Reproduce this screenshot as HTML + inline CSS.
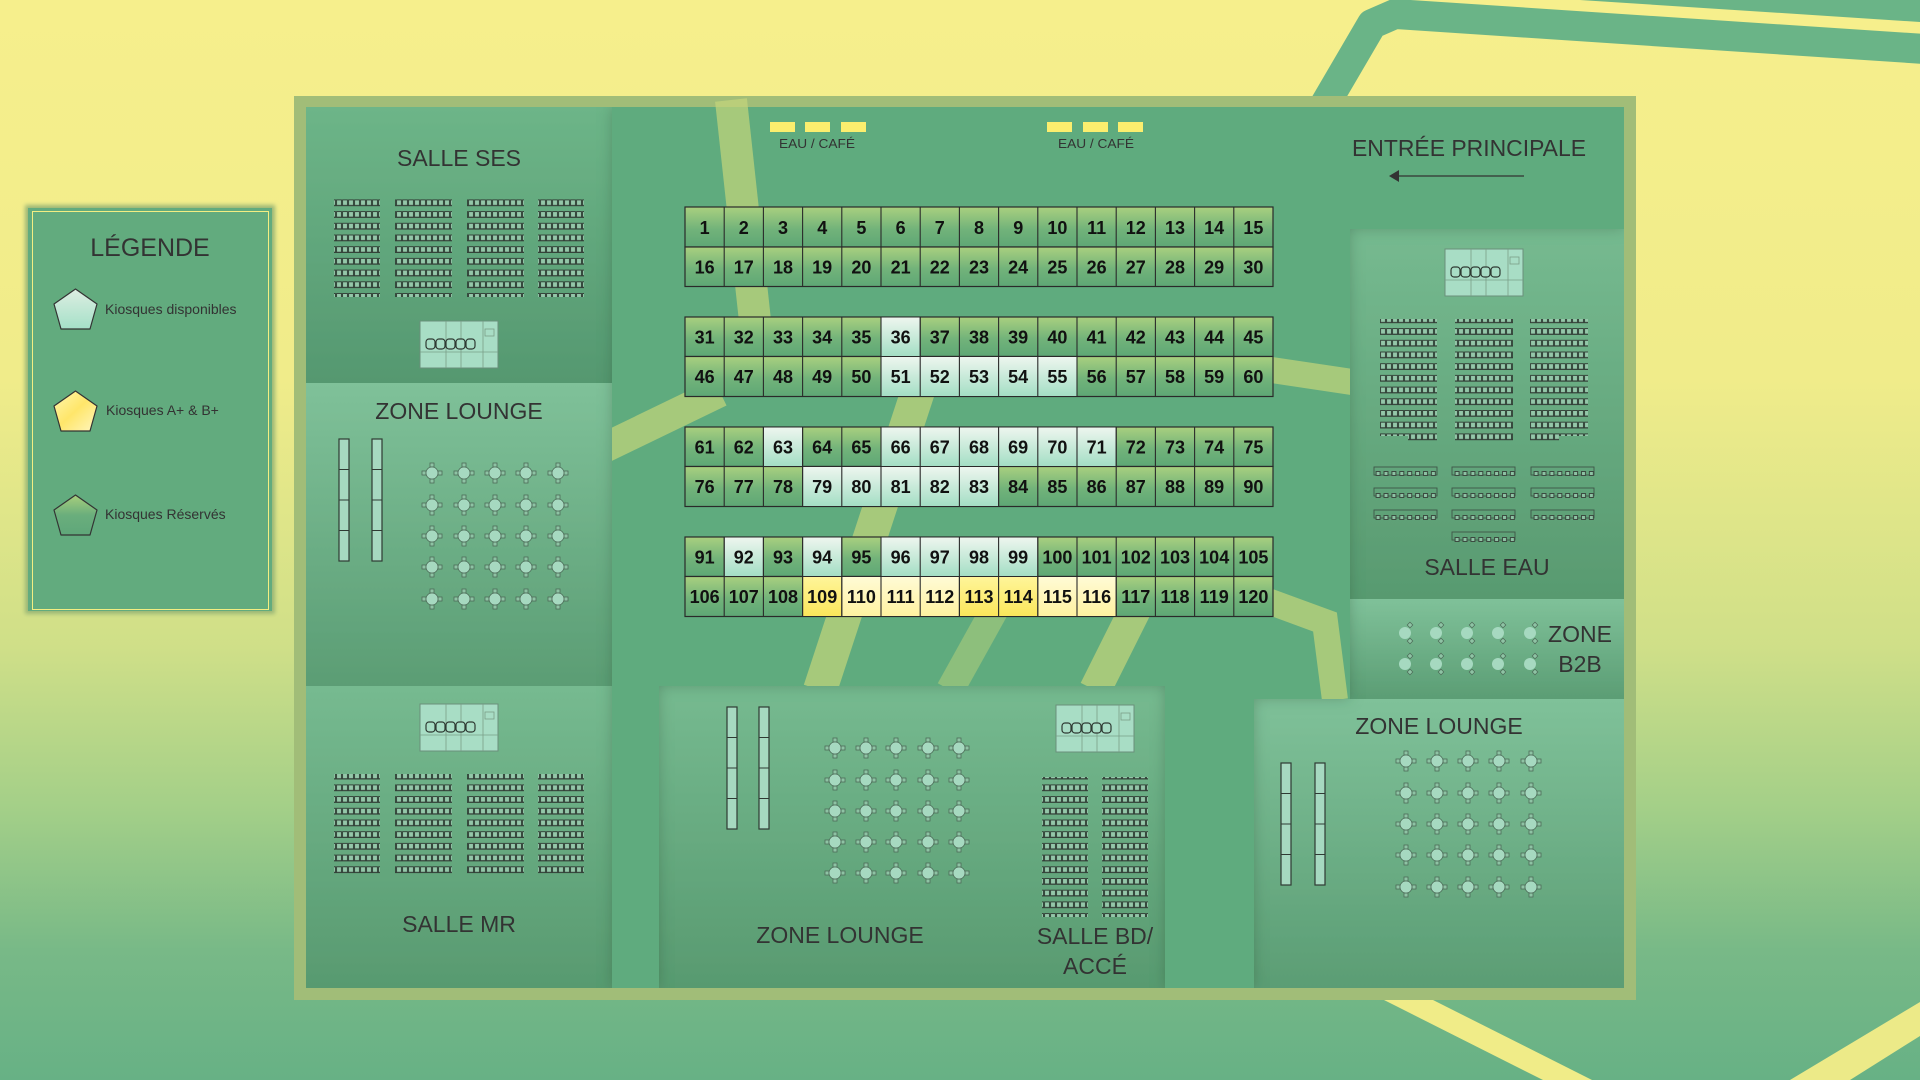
<!DOCTYPE html>
<html><head><meta charset="utf-8"><style>
html,body{margin:0;padding:0;width:1920px;height:1080px;overflow:hidden}
svg{display:block}
text{font-family:"Liberation Sans",sans-serif;fill:#333}
</style></head><body>
<svg width="1920" height="1080" viewBox="0 0 1920 1080" xmlns="http://www.w3.org/2000/svg">
<defs>
<linearGradient id="bg" x1="0" y1="0" x2="0" y2="1">
<stop offset="0" stop-color="#f6ef8c"/><stop offset="0.35" stop-color="#f0ec8a"/><stop offset="0.6" stop-color="#cfdf88"/><stop offset="0.75" stop-color="#a3cf88"/><stop offset="0.88" stop-color="#78b987"/><stop offset="1" stop-color="#67b185"/>
</linearGradient>
<filter id="inset" x="0" y="0" width="1" height="1">
<feFlood flood-color="#1f4a30" flood-opacity="0.45"/>
<feComposite in2="SourceAlpha" operator="out"/>
<feGaussianBlur stdDeviation="7"/>
<feComposite in2="SourceAlpha" operator="in" result="sh"/>
<feMerge><feMergeNode in="SourceGraphic"/><feMergeNode in="sh"/></feMerge>
</filter>
<filter id="glow" x="-10%" y="-10%" width="120%" height="120%"><feGaussianBlur stdDeviation="2"/></filter>
<linearGradient id="gG" x1="0" y1="0" x2="0" y2="1"><stop offset="0" stop-color="#a9d07f"/><stop offset="0.55" stop-color="#72b37a"/><stop offset="1" stop-color="#5ea775"/></linearGradient>
<linearGradient id="gA" x1="0" y1="0" x2="0" y2="1"><stop offset="0" stop-color="#eef6ef"/><stop offset="1" stop-color="#a3dec4"/></linearGradient>
<linearGradient id="gY" x1="0" y1="0" x2="0" y2="1"><stop offset="0" stop-color="#fffbd6"/><stop offset="1" stop-color="#fff2a0"/></linearGradient>
<linearGradient id="gY2" x1="0" y1="0" x2="0" y2="1"><stop offset="0" stop-color="#fff59a"/><stop offset="1" stop-color="#fbe65a"/></linearGradient>
<linearGradient id="pSes" x1="0" y1="0" x2="0" y2="1"><stop offset="0" stop-color="#6db588"/><stop offset="1" stop-color="#559870"/></linearGradient>
<linearGradient id="pL" x1="0" y1="0" x2="0" y2="1"><stop offset="0" stop-color="#7fc199"/><stop offset="1" stop-color="#5b9d74"/></linearGradient>
<linearGradient id="pMid" x1="0" y1="0" x2="0" y2="1"><stop offset="0" stop-color="#76ba90"/><stop offset="1" stop-color="#589a70"/></linearGradient>
<linearGradient id="pLeg" x1="0" y1="0" x2="0" y2="1"><stop offset="0" stop-color="#ddeee2"/><stop offset="1" stop-color="#a5e0c8"/></linearGradient>
<linearGradient id="pLegY" x1="0" y1="0" x2="1" y2="1"><stop offset="0" stop-color="#fff7b0"/><stop offset="0.5" stop-color="#ffe66a"/><stop offset="1" stop-color="#fff6c0"/></linearGradient>
<linearGradient id="pLegG" x1="0" y1="0" x2="0" y2="1"><stop offset="0" stop-color="#a8cf7c"/><stop offset="0.5" stop-color="#6aae7c"/><stop offset="1" stop-color="#5fa77a"/></linearGradient>
<pattern id="seat" patternUnits="userSpaceOnUse" width="6" height="11.7">
<rect x="0.6" y="1" width="4.8" height="5.6" fill="#94c7a9" stroke="#2f3a33" stroke-width="0.9"/>
<rect x="0" y="6.2" width="6" height="1" fill="#2f3a33"/>
</pattern>
<pattern id="chair" patternUnits="userSpaceOnUse" width="7.9" height="22">
<rect x="1.5" y="9.5" width="4" height="4" fill="#8ec3a4" stroke="#3b4a40" stroke-width="1"/>
</pattern>
<g id="tbl">
<rect x="-2" y="-10" width="4" height="4" fill="#8ec3a4" stroke="#4d6b58" stroke-width="0.8"/>
<rect x="-2" y="6" width="4" height="4" fill="#8ec3a4" stroke="#4d6b58" stroke-width="0.8"/>
<rect x="-10" y="-2" width="4" height="4" fill="#8ec3a4" stroke="#4d6b58" stroke-width="0.8"/>
<rect x="6" y="-2" width="4" height="4" fill="#8ec3a4" stroke="#4d6b58" stroke-width="0.8"/>
<circle r="6" fill="#a6d9c0" stroke="#4d6b58" stroke-width="0.8"/>
</g>
<g id="b2b">
<rect x="3" y="-10" width="4" height="4" transform="rotate(45 5 -8)" fill="#8ec3a4" stroke="#4d6b58" stroke-width="0.7"/>
<rect x="3" y="6" width="4" height="4" transform="rotate(45 5 8)" fill="#8ec3a4" stroke="#4d6b58" stroke-width="0.7"/>
<circle r="6" fill="#a6d9c0"/>
</g>
<g id="bars">
<rect x="0" y="0" width="10" height="122" fill="#a6d9c0" stroke="#2f3a33" stroke-width="1.2"/>
<line x1="0" y1="30.5" x2="10" y2="30.5" stroke="#2f3a33"/><line x1="0" y1="61" x2="10" y2="61" stroke="#2f3a33"/><line x1="0" y1="91.5" x2="10" y2="91.5" stroke="#2f3a33"/>
</g>
<g id="stage">
<rect x="0" y="0" width="78" height="47" fill="#a8ddc5" stroke="#6a8f7a" stroke-width="1"/>
<line x1="0" y1="31" x2="78" y2="31" stroke="#7a9e88" stroke-width="0.8"/>
<line x1="26" y1="0" x2="26" y2="47" stroke="#7a9e88" stroke-width="0.8"/>
<line x1="41" y1="0" x2="41" y2="47" stroke="#7a9e88" stroke-width="0.8"/>
<line x1="63" y1="0" x2="63" y2="47" stroke="#7a9e88" stroke-width="0.8"/>
<rect x="65" y="8" width="9" height="7" fill="none" stroke="#7a9e88" stroke-width="0.8"/>
<g fill="#a8ddc5" stroke="#2f3a33" stroke-width="1.2">
<rect x="6" y="18" width="9" height="10" rx="3"/><rect x="16" y="18" width="9" height="10" rx="3"/><rect x="26" y="18" width="9" height="10" rx="3"/><rect x="36" y="18" width="9" height="10" rx="3"/><rect x="46" y="18" width="9" height="10" rx="3"/>
</g>
</g>
</defs>

<!-- background -->
<rect width="1920" height="1080" fill="url(#bg)"/>
<polyline points="1310,130 1372,24 1395,14 1940,50" fill="none" stroke="#6ab487" stroke-width="30" stroke-linejoin="round"/>
<polygon points="1580,0 1920,0 1920,22" fill="#6ab487"/>
<polygon points="1384,1000 1433,1000 1592,1080 1543,1080" fill="#f0ec88"/>
<polygon points="1920,1002 1920,1036 1850,1080 1790,1080" fill="#ecea88"/>

<!-- legend -->
<rect x="25" y="205" width="250" height="409" fill="#9ab676" filter="url(#glow)"/>
<rect x="28" y="208" width="244" height="403" fill="#62ab7e"/>
<rect x="32.5" y="211.5" width="236" height="398" fill="none" stroke="#f3ee82" stroke-width="1"/>
<text x="150" y="256" font-size="25" text-anchor="middle">LÉGENDE</text>
<g stroke="#333" stroke-width="1.2" stroke-linejoin="round">
<polygon transform="translate(54,289)" points="21.5,0 43,15 36,40 7,40 0,15" fill="url(#pLeg)"/>
<polygon transform="translate(54,391)" points="21.5,0 43,15 36,40 7,40 0,15" fill="url(#pLegY)"/>
<polygon transform="translate(54,495)" points="21.5,0 43,15 36,40 7,40 0,15" fill="url(#pLegG)"/>
</g>
<text x="105" y="314" font-size="14">Kiosques disponibles</text>
<text x="106" y="415" font-size="14">Kiosques A+ &amp; B+</text>
<text x="105" y="519" font-size="14">Kiosques Réservés</text>

<!-- board -->
<rect x="294" y="96" width="1342" height="904" fill="#a1bd78"/>
<rect x="306" y="107" width="1318" height="881" fill="#5fab7e" filter="url(#inset)"/>
<!-- stripes -->
<g stroke="#c5d67b" stroke-opacity="0.7" fill="none" stroke-linecap="butt">
<line x1="731" y1="100" x2="756" y2="330" stroke-width="32"/>
<line x1="600" y1="450" x2="720" y2="392" stroke-width="30"/>
<line x1="920" y1="385" x2="820" y2="690" stroke-width="34"/>
<line x1="1000" y1="600" x2="950" y2="690" stroke-width="28" stroke-opacity="0.45"/>
<line x1="1140" y1="600" x2="1095" y2="690" stroke-width="32"/>
<line x1="1265" y1="369" x2="1352" y2="382" stroke-width="26"/>
<polyline points="1265,600 1325,622 1335,700" stroke-width="26"/>
</g>

<!-- panels -->
<g filter="url(#inset)">
<rect x="306" y="107" width="306" height="276" fill="url(#pSes)"/>
<rect x="306" y="383" width="306" height="303" fill="url(#pL)"/>
<rect x="306" y="686" width="306" height="302" fill="url(#pMid)"/>
<rect x="659" y="686" width="365" height="302" fill="url(#pMid)"/>
<rect x="1024" y="686" width="141" height="302" fill="url(#pMid)"/>
<rect x="1254" y="699" width="370" height="289" fill="url(#pL)"/>
<rect x="1350" y="229" width="274" height="370" fill="url(#pMid)"/>
<rect x="1350" y="599" width="274" height="100" fill="url(#pL)"/>
</g>

<!-- SALLE SES -->
<text x="459" y="166" font-size="23" text-anchor="middle">SALLE SES</text>
<g fill="url(#seat)">
<rect x="334" y="197" width="46" height="100"/><rect x="395" y="197" width="57" height="100"/><rect x="467" y="197" width="57" height="100"/><rect x="538" y="197" width="46" height="100"/>
</g>
<use href="#stage" x="420" y="321"/>

<!-- LEFT LOUNGE -->
<text x="459" y="419" font-size="23" text-anchor="middle">ZONE LOUNGE</text>
<use href="#bars" x="339" y="439"/><use href="#bars" x="372" y="439"/>
<g>
<use href="#tbl" x="432" y="473"/><use href="#tbl" x="464" y="473"/><use href="#tbl" x="495" y="473"/><use href="#tbl" x="526" y="473"/><use href="#tbl" x="558" y="473"/>
<use href="#tbl" x="432" y="505"/><use href="#tbl" x="464" y="505"/><use href="#tbl" x="495" y="505"/><use href="#tbl" x="526" y="505"/><use href="#tbl" x="558" y="505"/>
<use href="#tbl" x="432" y="536"/><use href="#tbl" x="464" y="536"/><use href="#tbl" x="495" y="536"/><use href="#tbl" x="526" y="536"/><use href="#tbl" x="558" y="536"/>
<use href="#tbl" x="432" y="567"/><use href="#tbl" x="464" y="567"/><use href="#tbl" x="495" y="567"/><use href="#tbl" x="526" y="567"/><use href="#tbl" x="558" y="567"/>
<use href="#tbl" x="432" y="599"/><use href="#tbl" x="464" y="599"/><use href="#tbl" x="495" y="599"/><use href="#tbl" x="526" y="599"/><use href="#tbl" x="558" y="599"/>
</g>

<!-- SALLE MR -->
<use href="#stage" x="420" y="704"/>
<g fill="url(#seat)">
<rect x="334" y="774" width="46" height="102"/><rect x="395" y="774" width="57" height="102"/><rect x="467" y="774" width="57" height="102"/><rect x="538" y="774" width="46" height="102"/>
</g>
<text x="459" y="932" font-size="23" text-anchor="middle">SALLE MR</text>

<!-- MID LOUNGE -->
<use href="#bars" x="727" y="707"/><use href="#bars" x="759" y="707"/>
<g>
<use href="#tbl" x="835" y="748"/><use href="#tbl" x="866" y="748"/><use href="#tbl" x="896" y="748"/><use href="#tbl" x="928" y="748"/><use href="#tbl" x="959" y="748"/>
<use href="#tbl" x="835" y="780"/><use href="#tbl" x="866" y="780"/><use href="#tbl" x="896" y="780"/><use href="#tbl" x="928" y="780"/><use href="#tbl" x="959" y="780"/>
<use href="#tbl" x="835" y="811"/><use href="#tbl" x="866" y="811"/><use href="#tbl" x="896" y="811"/><use href="#tbl" x="928" y="811"/><use href="#tbl" x="959" y="811"/>
<use href="#tbl" x="835" y="842"/><use href="#tbl" x="866" y="842"/><use href="#tbl" x="896" y="842"/><use href="#tbl" x="928" y="842"/><use href="#tbl" x="959" y="842"/>
<use href="#tbl" x="835" y="873"/><use href="#tbl" x="866" y="873"/><use href="#tbl" x="896" y="873"/><use href="#tbl" x="928" y="873"/><use href="#tbl" x="959" y="873"/>
</g>
<text x="840" y="943" font-size="23" text-anchor="middle">ZONE LOUNGE</text>

<!-- SALLE BD -->
<use href="#stage" x="1056" y="705"/>
<g fill="url(#seat)">
<rect x="1042" y="777" width="46" height="140"/><rect x="1102" y="777" width="46" height="140"/>
</g>
<text x="1095" y="944" font-size="23" text-anchor="middle">SALLE BD/</text>
<text x="1095" y="974" font-size="23" text-anchor="middle">ACCÉ</text>

<!-- RIGHT LOUNGE -->
<text x="1439" y="734" font-size="23" text-anchor="middle">ZONE LOUNGE</text>
<use href="#bars" x="1281" y="763"/><use href="#bars" x="1315" y="763"/>
<g>
<use href="#tbl" x="1406" y="761"/><use href="#tbl" x="1437" y="761"/><use href="#tbl" x="1468" y="761"/><use href="#tbl" x="1499" y="761"/><use href="#tbl" x="1531" y="761"/>
<use href="#tbl" x="1406" y="793"/><use href="#tbl" x="1437" y="793"/><use href="#tbl" x="1468" y="793"/><use href="#tbl" x="1499" y="793"/><use href="#tbl" x="1531" y="793"/>
<use href="#tbl" x="1406" y="824"/><use href="#tbl" x="1437" y="824"/><use href="#tbl" x="1468" y="824"/><use href="#tbl" x="1499" y="824"/><use href="#tbl" x="1531" y="824"/>
<use href="#tbl" x="1406" y="855"/><use href="#tbl" x="1437" y="855"/><use href="#tbl" x="1468" y="855"/><use href="#tbl" x="1499" y="855"/><use href="#tbl" x="1531" y="855"/>
<use href="#tbl" x="1406" y="887"/><use href="#tbl" x="1437" y="887"/><use href="#tbl" x="1468" y="887"/><use href="#tbl" x="1499" y="887"/><use href="#tbl" x="1531" y="887"/>
</g>

<!-- SALLE EAU -->
<use href="#stage" x="1445" y="249"/>
<g fill="url(#seat)">
<rect x="1380" y="319" width="57" height="117"/><rect x="1408" y="436" width="29" height="8"/>
<rect x="1455" y="319" width="58" height="125"/>
<rect x="1530" y="319" width="58" height="117"/><rect x="1530" y="436" width="29" height="8"/>
</g>
<g fill="none" stroke="#3f5548" stroke-width="0.9">
<rect x="1374" y="467" width="63" height="8"/><rect x="1452" y="467" width="63" height="8"/><rect x="1531" y="467" width="63" height="8"/>
<rect x="1374" y="488" width="63" height="8"/><rect x="1452" y="488" width="63" height="8"/><rect x="1531" y="488" width="63" height="8"/>
<rect x="1374" y="510" width="63" height="8"/><rect x="1452" y="510" width="63" height="8"/><rect x="1531" y="510" width="63" height="8"/>
<rect x="1452" y="532" width="63" height="8"/>
</g>
<g fill="url(#chair)">
<rect x="1374" y="467" width="63" height="66"/><rect x="1452" y="467" width="63" height="66"/><rect x="1531" y="467" width="63" height="66"/>
<rect x="1452" y="533" width="63" height="14"/>
</g>
<text x="1487" y="575" font-size="23" text-anchor="middle">SALLE EAU</text>

<!-- B2B -->
<g>
<use href="#b2b" x="1405" y="633"/><use href="#b2b" x="1436" y="633"/><use href="#b2b" x="1467" y="633"/><use href="#b2b" x="1498" y="633"/><use href="#b2b" x="1530" y="633"/>
<use href="#b2b" x="1405" y="664"/><use href="#b2b" x="1436" y="664"/><use href="#b2b" x="1467" y="664"/><use href="#b2b" x="1498" y="664"/><use href="#b2b" x="1530" y="664"/>
</g>
<text x="1580" y="642" font-size="23" text-anchor="middle">ZONE</text>
<text x="1580" y="672" font-size="23" text-anchor="middle">B2B</text>

<!-- top: eau/cafe, entrance -->
<g fill="#fbee6e">
<rect x="770" y="122" width="25" height="10"/><rect x="805" y="122" width="25" height="10"/><rect x="841" y="122" width="25" height="10"/>
<rect x="1047" y="122" width="25" height="10"/><rect x="1083" y="122" width="25" height="10"/><rect x="1118" y="122" width="25" height="10"/>
</g>
<text x="817" y="148" font-size="13" text-anchor="middle" textLength="76" lengthAdjust="spacingAndGlyphs">EAU / CAFÉ</text>
<text x="1096" y="148" font-size="13" text-anchor="middle" textLength="76" lengthAdjust="spacingAndGlyphs">EAU / CAFÉ</text>
<text x="1352" y="156" font-size="23" textLength="234" lengthAdjust="spacingAndGlyphs">ENTRÉE PRINCIPALE</text>
<line x1="1396" y1="176" x2="1524" y2="176" stroke="#333" stroke-width="1.2"/>
<polygon points="1389,176 1399,170 1399,182" fill="#333"/>

<!-- kiosk grid -->
<g stroke="#2a2a2a" stroke-width="1.2">
<rect x="685" y="207" width="588" height="40" fill="url(#gG)"/>
<rect x="685" y="247" width="588" height="39.5" fill="url(#gG)"/>
<rect x="685" y="317" width="588" height="39.5" fill="url(#gG)"/>
<rect x="685" y="356.5" width="588" height="40" fill="url(#gG)"/>
<rect x="685" y="427" width="588" height="39.5" fill="url(#gG)"/>
<rect x="685" y="466.5" width="588" height="40" fill="url(#gG)"/>
<rect x="685" y="537" width="588" height="39.5" fill="url(#gG)"/>
<rect x="685" y="576.5" width="588" height="40" fill="url(#gG)"/>
</g>
<g stroke="#2a2a2a" stroke-width="1" fill="url(#gA)">
<rect x="881" y="317" width="39.2" height="39.5"/>
<rect x="881" y="356.5" width="196" height="40"/>
<rect x="763.4" y="427" width="39.2" height="39.5"/>
<rect x="881" y="427" width="235.2" height="39.5"/>
<rect x="802.6" y="466.5" width="196" height="40"/>
<rect x="724.2" y="537" width="39.2" height="39.5"/>
<rect x="802.6" y="537" width="39.2" height="39.5"/>
<rect x="881" y="537" width="156.8" height="39.5"/>
</g>
<g stroke="#2a2a2a" stroke-width="1">
<rect x="802.6" y="576.5" width="313.6" height="40" fill="url(#gY)"/>
<rect x="802.6" y="576.5" width="39.2" height="40" fill="url(#gY2)"/>
<rect x="959.4" y="576.5" width="78.4" height="40" fill="url(#gY2)"/>
</g>
<g stroke="#2a2a2a" stroke-width="1.1">
<path d="M724.2 207V286.5M763.4 207V286.5M802.6 207V286.5M841.8 207V286.5M881 207V286.5M920.2 207V286.5M959.4 207V286.5M998.6 207V286.5M1037.8 207V286.5M1077 207V286.5M1116.2 207V286.5M1155.4 207V286.5M1194.6 207V286.5M1233.8 207V286.5"/>
<path d="M724.2 317V396.5M763.4 317V396.5M802.6 317V396.5M841.8 317V396.5M881 317V396.5M920.2 317V396.5M959.4 317V396.5M998.6 317V396.5M1037.8 317V396.5M1077 317V396.5M1116.2 317V396.5M1155.4 317V396.5M1194.6 317V396.5M1233.8 317V396.5"/>
<path d="M724.2 427V506.5M763.4 427V506.5M802.6 427V506.5M841.8 427V506.5M881 427V506.5M920.2 427V506.5M959.4 427V506.5M998.6 427V506.5M1037.8 427V506.5M1077 427V506.5M1116.2 427V506.5M1155.4 427V506.5M1194.6 427V506.5M1233.8 427V506.5"/>
<path d="M724.2 537V616.5M763.4 537V616.5M802.6 537V616.5M841.8 537V616.5M881 537V616.5M920.2 537V616.5M959.4 537V616.5M998.6 537V616.5M1037.8 537V616.5M1077 537V616.5M1116.2 537V616.5M1155.4 537V616.5M1194.6 537V616.5M1233.8 537V616.5"/>
</g>
<g font-size="18" font-weight="bold" text-anchor="middle">
<text y="234" style="fill:#111"><tspan x="704.6">1</tspan><tspan x="743.8">2</tspan><tspan x="783">3</tspan><tspan x="822.2">4</tspan><tspan x="861.4">5</tspan><tspan x="900.6">6</tspan><tspan x="939.8">7</tspan><tspan x="979">8</tspan><tspan x="1018.2">9</tspan><tspan x="1057.4">10</tspan><tspan x="1096.6">11</tspan><tspan x="1135.8">12</tspan><tspan x="1175">13</tspan><tspan x="1214.2">14</tspan><tspan x="1253.4">15</tspan></text>
<text y="273.5" style="fill:#111"><tspan x="704.6">16</tspan><tspan x="743.8">17</tspan><tspan x="783">18</tspan><tspan x="822.2">19</tspan><tspan x="861.4">20</tspan><tspan x="900.6">21</tspan><tspan x="939.8">22</tspan><tspan x="979">23</tspan><tspan x="1018.2">24</tspan><tspan x="1057.4">25</tspan><tspan x="1096.6">26</tspan><tspan x="1135.8">27</tspan><tspan x="1175">28</tspan><tspan x="1214.2">29</tspan><tspan x="1253.4">30</tspan></text>
<text y="343.5" style="fill:#111"><tspan x="704.6">31</tspan><tspan x="743.8">32</tspan><tspan x="783">33</tspan><tspan x="822.2">34</tspan><tspan x="861.4">35</tspan><tspan x="900.6">36</tspan><tspan x="939.8">37</tspan><tspan x="979">38</tspan><tspan x="1018.2">39</tspan><tspan x="1057.4">40</tspan><tspan x="1096.6">41</tspan><tspan x="1135.8">42</tspan><tspan x="1175">43</tspan><tspan x="1214.2">44</tspan><tspan x="1253.4">45</tspan></text>
<text y="383" style="fill:#111"><tspan x="704.6">46</tspan><tspan x="743.8">47</tspan><tspan x="783">48</tspan><tspan x="822.2">49</tspan><tspan x="861.4">50</tspan><tspan x="900.6">51</tspan><tspan x="939.8">52</tspan><tspan x="979">53</tspan><tspan x="1018.2">54</tspan><tspan x="1057.4">55</tspan><tspan x="1096.6">56</tspan><tspan x="1135.8">57</tspan><tspan x="1175">58</tspan><tspan x="1214.2">59</tspan><tspan x="1253.4">60</tspan></text>
<text y="453.5" style="fill:#111"><tspan x="704.6">61</tspan><tspan x="743.8">62</tspan><tspan x="783">63</tspan><tspan x="822.2">64</tspan><tspan x="861.4">65</tspan><tspan x="900.6">66</tspan><tspan x="939.8">67</tspan><tspan x="979">68</tspan><tspan x="1018.2">69</tspan><tspan x="1057.4">70</tspan><tspan x="1096.6">71</tspan><tspan x="1135.8">72</tspan><tspan x="1175">73</tspan><tspan x="1214.2">74</tspan><tspan x="1253.4">75</tspan></text>
<text y="493" style="fill:#111"><tspan x="704.6">76</tspan><tspan x="743.8">77</tspan><tspan x="783">78</tspan><tspan x="822.2">79</tspan><tspan x="861.4">80</tspan><tspan x="900.6">81</tspan><tspan x="939.8">82</tspan><tspan x="979">83</tspan><tspan x="1018.2">84</tspan><tspan x="1057.4">85</tspan><tspan x="1096.6">86</tspan><tspan x="1135.8">87</tspan><tspan x="1175">88</tspan><tspan x="1214.2">89</tspan><tspan x="1253.4">90</tspan></text>
<text y="563.5" style="fill:#111"><tspan x="704.6">91</tspan><tspan x="743.8">92</tspan><tspan x="783">93</tspan><tspan x="822.2">94</tspan><tspan x="861.4">95</tspan><tspan x="900.6">96</tspan><tspan x="939.8">97</tspan><tspan x="979">98</tspan><tspan x="1018.2">99</tspan><tspan x="1057.4">100</tspan><tspan x="1096.6">101</tspan><tspan x="1135.8">102</tspan><tspan x="1175">103</tspan><tspan x="1214.2">104</tspan><tspan x="1253.4">105</tspan></text>
<text y="603" style="fill:#111"><tspan x="704.6">106</tspan><tspan x="743.8">107</tspan><tspan x="783">108</tspan><tspan x="822.2">109</tspan><tspan x="861.4">110</tspan><tspan x="900.6">111</tspan><tspan x="939.8">112</tspan><tspan x="979">113</tspan><tspan x="1018.2">114</tspan><tspan x="1057.4">115</tspan><tspan x="1096.6">116</tspan><tspan x="1135.8">117</tspan><tspan x="1175">118</tspan><tspan x="1214.2">119</tspan><tspan x="1253.4">120</tspan></text>
</g>
</svg>
</body></html>
